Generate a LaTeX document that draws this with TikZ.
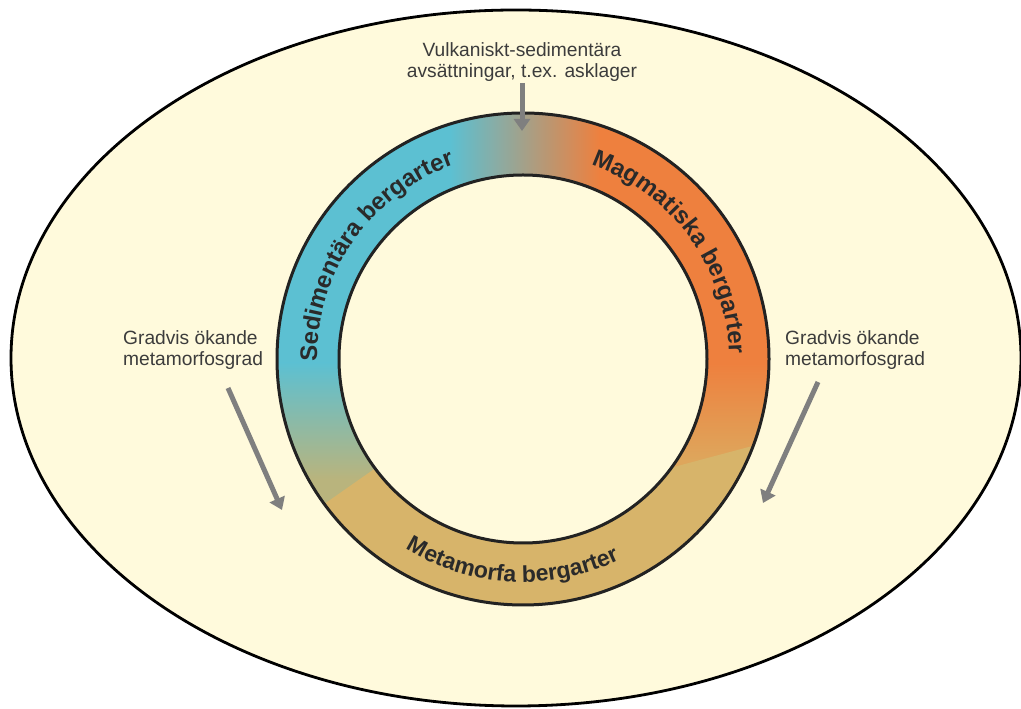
\documentclass[tikz,border=0pt]{standalone}
\usepackage{fontspec}
\setmainfont{Liberation Sans}
\usetikzlibrary{decorations.text,arrows.meta}
\definecolor{cream}{HTML}{FFFADC}
\definecolor{sedblue}{HTML}{5CC0D2}
\definecolor{magorange}{HTML}{EE803E}
\definecolor{topgrey}{HTML}{A69E8C}
\definecolor{sedgreen}{HTML}{B9B47D}
\definecolor{magtan}{HTML}{DEA65C}
\definecolor{metatan}{HTML}{D7B46A}
\definecolor{ringline}{HTML}{222222}
\definecolor{ringtext}{HTML}{2A2A2A}
\definecolor{labelgray}{HTML}{3C3C3C}
\definecolor{arrowgray}{HTML}{7F7F7F}
\newcommand{\ringfont}{\bfseries\fontsize{24}{28}\selectfont}
\newcommand{\metafont}{\bfseries\fontsize{23}{27}\selectfont}
\tikzset{
  lbl/.style={font=\fontsize{19.2}{21}\selectfont, text=labelgray, inner sep=0pt},
  grayarrow/.style={draw=arrowgray, line width=5pt, -{Triangle[width=16pt,length=12pt]}},
  ringtextstyle/.style={decorate, decoration={text along path, text align=center, text color=ringtext, text={|\ringfont|#1}}},
  metatextstyle/.style={decorate, decoration={text along path, text align=center, text color=ringtext, text={|\metafont|#1}}}
}
\begin{document}
\begin{tikzpicture}[x=1pt,y=1pt]
\useasboundingbox (0,0) rectangle (1021,709);
% background ellipse
\filldraw[fill=cream, draw=black, line width=2.8pt] (516,351) ellipse [x radius=505, y radius=348];
\coordinate (C) at (523,350);
% ring colours
\begin{scope}
\clip (C) circle[radius=246];
\fill[sedblue] (270,346) rectangle (450,610);
\fill[magorange] (600,346) rectangle (780,610);
\shade[left color=sedblue, middle color=topgrey, right color=magorange] (450,346) rectangle (600,610);
\shade[top color=sedblue, bottom color=sedgreen] (270,230) rectangle (523,346);
\fill[sedgreen] (270,90) rectangle (523,230);
\shade[top color=magorange, bottom color=magtan] (523,249) rectangle (780,346);
\fill[magtan] (523,90) rectangle (780,249);
\fill[metatan] (270,167) -- (420,272) -- (640,233) -- (790,273) -- (790,90) -- (270,90) -- cycle;
\end{scope}
\filldraw[fill=cream, draw=ringline, line width=3pt] (C) circle[radius=184];
\draw[ringline, line width=3pt] (C) circle[radius=246];
% ring labels
\path[ringtextstyle={Sedimentära bergarter}] (C) ++(215:206pt) arc[start angle=215, end angle=75, radius=206pt];
\path[ringtextstyle={Magmatiska bergarter}] (C) ++(106:206pt) arc[start angle=106, end angle=-34, radius=206pt];
\path[metatextstyle={Metamorfa bergarter}] (C) ++(197:223pt) arc[start angle=197, end angle=337, radius=223pt];
% labels
\node[lbl, align=center, anchor=north] (ltop) at (522,667) {Vulkaniskt-sedimentära\\avsättningar, t.ex. asklager};
\node[lbl, align=left, anchor=north west] (lleft) at (123,379) {Gradvis ökande\\metamorfosgrad};
\node[lbl, align=left, anchor=north west] (lright) at (785,379) {Gradvis ökande\\metamorfosgrad};
% arrows
\coordinate (ta1) at (522,626);
\coordinate (ta2) at (522,578);
\coordinate (la1) at (228,321);
\coordinate (la2) at (282,199);
\coordinate (ra1) at (818,327);
\coordinate (ra2) at (763,206);
\draw[grayarrow] (ta1) -- (ta2);
\draw[grayarrow] (la1) -- (la2);
\draw[grayarrow] (ra1) -- (ra2);
\end{tikzpicture}
\end{document}
